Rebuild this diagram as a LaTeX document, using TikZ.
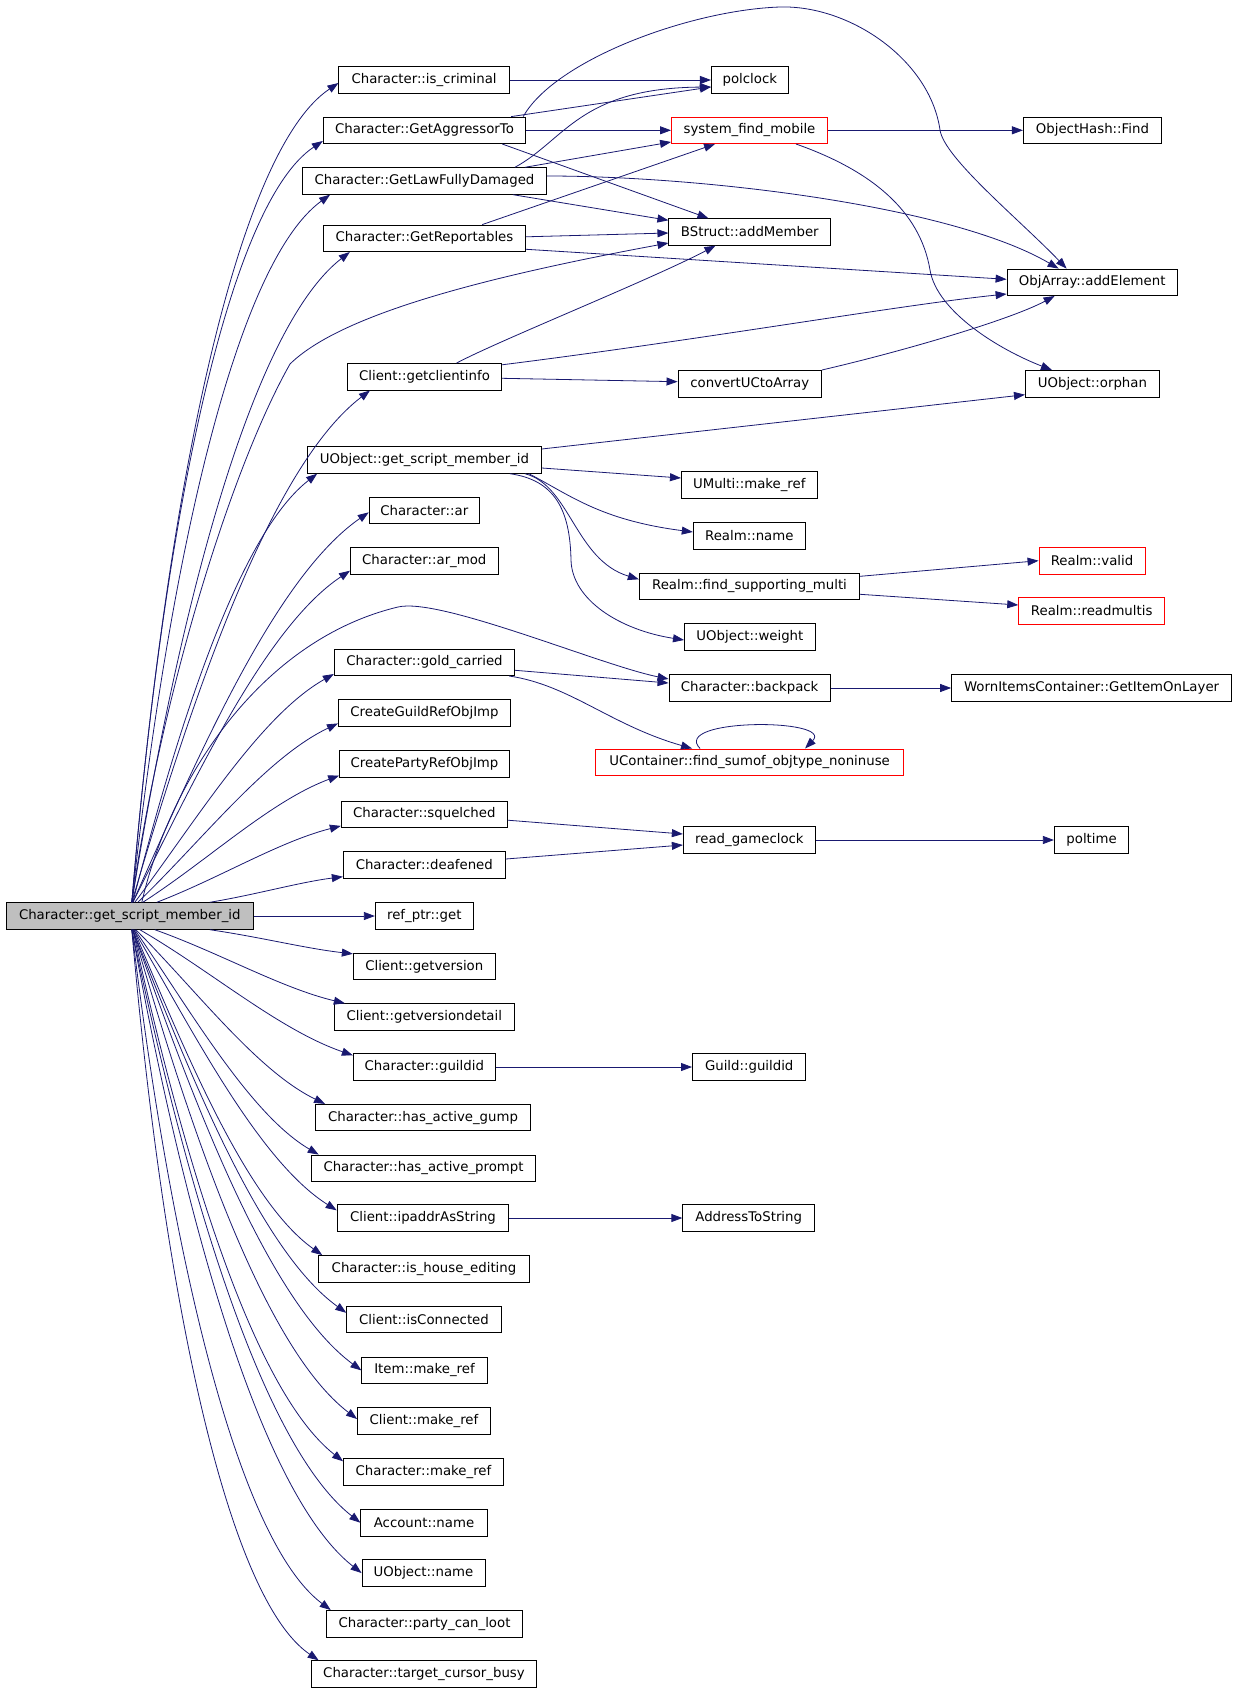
\documentclass[tikz,border=0pt]{standalone}
\usepackage{fontspec}
\setmainfont{DejaVu Sans}
\usetikzlibrary{arrows.meta,calc}
\definecolor{edgecol}{HTML}{191970}
\definecolor{nodegray}{HTML}{BFBFBF}
\definecolor{redline}{HTML}{FF0000}
\tikzset{
  fbox/.style={draw=black, line width=0.9pt, minimum height=26.5pt, inner sep=0pt, anchor=center,
     font=\fontsize{13.3}{16}\selectfont, text=black},
  redbox/.style={fbox, draw=redline},
  mainbox/.style={fbox, fill=nodegray},
  calln/.style={draw=edgecol, line width=0.8pt, -{Triangle[length=11pt,width=8pt]}},
}
\newcommand\callfan[2]{\draw[calln] let \p1=#1, \p2=#2, \n1={\x2-\x1}, \n2={\y2-\y1},
   \n3={min(5,max(0.1,abs(\n2)/\n1))-0.66}, \n4={0.33-0.05*\n3}, \n5={0.33+0.05*\n3},
   \n6={0.35+0.045*\n3}, \n7={max(0.05,0.2-0.035*\n3)}
   in (\p1) .. controls ({\x1+\n4*\n1},{\y1+\n5*\n2}) and ({\x2-\n6*\n1},{\y2-\n7*\n2}) .. (\p2);}
\begin{document}
\begin{tikzpicture}[x=1pt,y=-1pt]
\useasboundingbox (0,0) rectangle (1237,1694);
% nodes
\node[mainbox, minimum width=247pt] (main) at (129.8,916) {Character::get\_script\_member\_id};
\node[fbox, minimum width=170.4pt] (crim) at (424.1,80) {Character::is\_criminal};
\node[fbox, minimum width=76.8pt] (polc) at (749.8,80) {polclock};
\node[fbox, minimum width=202.5pt] (agg) at (424.5,130.3) {Character::GetAggressorTo};
\node[redbox, minimum width=156pt] (sfm) at (749.5,130.3) {system\_find\_mobile};
\node[fbox, minimum width=138pt] (ohf) at (1092.4,130.3) {ObjectHash::Find};
\node[fbox, minimum width=244pt] (law) at (424.5,181) {Character::GetLawFullyDamaged};
\node[fbox, minimum width=161.8pt] (bsm) at (749.8,232) {BStruct::addMember};
\node[fbox, minimum width=202.5pt] (rep) at (424.5,238.3) {Character::GetReportables};
\node[fbox, minimum width=170.3pt] (oae) at (1092.2,282.3) {ObjArray::addElement};
\node[fbox, minimum width=154.2pt] (gci) at (424.5,376.8) {Client::getclientinfo};
\node[fbox, minimum width=143.4pt] (cuc) at (749.7,383.7) {convertUCtoArray};
\node[fbox, minimum width=134pt] (orph) at (1092.4,383.7) {UObject::orphan};
\node[fbox, minimum width=233.8pt] (ugs) at (424.5,460) {UObject::get\_script\_member\_id};
\node[fbox, minimum width=135.8pt] (umr) at (749.3,485) {UMulti::make\_ref};
\node[fbox, minimum width=110.2pt] (car) at (424.3,510.3) {Character::ar};
\node[fbox, minimum width=112.1pt] (rnm) at (749.3,536) {Realm::name};
\node[fbox, minimum width=147.7pt] (carm) at (424.3,561) {Character::ar\_mod};
\node[redbox, minimum width=106pt] (rvl) at (1092,560.7) {Realm::valid};
\node[fbox, minimum width=220.4pt] (fsm) at (749.5,586.3) {Realm::find\_supporting\_multi};
\node[redbox, minimum width=146pt] (rrm) at (1091.7,611) {Realm::readmultis};
\node[fbox, minimum width=130.9pt] (wgt) at (749.9,637) {UObject::weight};
\node[fbox, minimum width=180.4pt] (gold) at (424.5,662.3) {Character::gold\_carried};
\node[fbox, minimum width=161.2pt] (bp) at (749.6,688) {Character::backpack};
\node[fbox, minimum width=280pt] (wic) at (1091.6,688) {WornItemsContainer::GetItemOnLayer};
\node[fbox, minimum width=172.2pt] (cgr) at (424.5,712.7) {CreateGuildRefObjImp};
\node[redbox, minimum width=308.2pt] (uc) at (749.6,762.2) {UContainer::find\_sumof\_objtype\_noninuse};
\node[fbox, minimum width=169.8pt] (cpr) at (424.5,763.8) {CreatePartyRefObjImp};
\node[fbox, minimum width=166pt] (sq) at (424.3,814.2) {Character::squelched};
\node[fbox, minimum width=132.2pt] (rgc) at (749.4,840) {read\_gameclock};
\node[fbox, minimum width=74.5pt] (ptime) at (1091.6,840) {poltime};
\node[fbox, minimum width=162pt] (deaf) at (424.3,865) {Character::deafened};
\node[fbox, minimum width=98pt] (ref) at (424.3,916) {ref\_ptr::get};
\node[fbox, minimum width=142pt] (gv) at (424.3,966.5) {Client::getversion};
\node[fbox, minimum width=180pt] (gvd) at (424.3,1017) {Client::getversiondetail};
\node[fbox, minimum width=142pt] (gid) at (424.3,1067) {Character::guildid};
\node[fbox, minimum width=113.4pt] (ggid) at (749.2,1067) {Guild::guildid};
\node[fbox, minimum width=215pt] (hag) at (423,1117.6) {Character::has\_active\_gump};
\node[fbox, minimum width=224.7pt] (hap) at (423.5,1168.3) {Character::has\_active\_prompt};
\node[fbox, minimum width=171.8pt] (ip) at (423,1218) {Client::ipaddrAsString};
\node[fbox, minimum width=131.8pt] (ats) at (748.7,1218) {AddressToString};
\node[fbox, minimum width=210.6pt] (ihe) at (424,1268.8) {Character::is\_house\_editing};
\node[fbox, minimum width=154.5pt] (icn) at (424,1319.5) {Client::isConnected};
\node[fbox, minimum width=125.3pt] (imr) at (424.5,1370.4) {Item::make\_ref};
\node[fbox, minimum width=133pt] (cmr) at (424,1421) {Client::make\_ref};
\node[fbox, minimum width=160pt] (chmr) at (423.5,1472) {Character::make\_ref};
\node[fbox, minimum width=126.4pt] (acn) at (424,1522.7) {Account::name};
\node[fbox, minimum width=123pt] (uon) at (423.5,1573) {UObject::name};
\node[fbox, minimum width=196.6pt] (pcl) at (424.5,1623.7) {Character::party\_can\_loot};
\node[fbox, minimum width=225.8pt] (tcb) at (424,1674) {Character::target\_cursor\_busy};
% edges from main, upward
\callfan{([xshift=2pt]main.north)}{([yshift=-3pt]crim.west)}
\callfan{([xshift=2pt]main.north)}{([yshift=3pt]agg.south west)}
\callfan{([xshift=2pt]main.north)}{([xshift=28pt]law.south west)}
\callfan{([xshift=2pt]main.north)}{([xshift=27pt]rep.south west)}
\draw[calln] ([xshift=2pt]main.north) .. controls (160,700) and (230,470) .. (290,364) .. controls (340,315) and (480,278) .. ([yshift=-11pt]bsm.west);
\callfan{([xshift=2pt]main.north)}{([xshift=23pt]gci.south west)}
\callfan{([xshift=3pt]main.north)}{([xshift=10pt]ugs.south west)}
\callfan{([xshift=3pt]main.north)}{([yshift=-2pt]car.west)}
\callfan{([xshift=3pt]main.north)}{([yshift=4pt]carm.south west)}
\draw[calln] ([xshift=12pt]main.north) .. controls (170,780) and (260,640) .. (398,607) .. controls (440,597) and (600,665) .. ([yshift=9pt]bp.west);
\callfan{([xshift=5pt]main.north)}{([yshift=2pt]gold.south west)}
\callfan{([xshift=8pt]main.north)}{([yshift=3pt]cgr.south west)}
\callfan{([xshift=13pt]main.north)}{([yshift=2pt]cpr.south west)}
\callfan{([xshift=27pt]main.north)}{([yshift=2pt]sq.south west)}
\callfan{([xshift=80pt]main.north)}{([yshift=2pt]deaf.south west)}
\draw[calln] (main.east) -- (ref.west);
% edges from main, downward
\callfan{([xshift=80pt]main.south)}{([yshift=-1pt]gv.north west)}
\callfan{([xshift=25pt]main.south)}{([xshift=11pt]gvd.north west)}
\callfan{([xshift=10pt]main.south)}{([yshift=-2pt]gid.north west)}
\callfan{([xshift=6pt]main.south)}{([xshift=10pt]hag.north west)}
\callfan{([xshift=5pt]main.south)}{([xshift=8pt]hap.north west)}
\callfan{([xshift=4pt]main.south)}{([yshift=-6pt]ip.north west)}
\callfan{([xshift=4pt]main.south)}{([xshift=4pt]ihe.north west)}
\callfan{([xshift=3pt]main.south)}{([yshift=-7pt]icn.north west)}
\callfan{([xshift=3pt]main.south)}{(imr.west)}
\callfan{([xshift=3pt]main.south)}{([yshift=2pt]cmr.west)}
\callfan{([xshift=3pt]main.south)}{([yshift=-3pt]chmr.north west)}
\callfan{([xshift=2pt]main.south)}{(acn.west)}
\callfan{([xshift=2pt]main.south)}{(uon.west)}
\callfan{([xshift=2pt]main.south)}{([xshift=5pt]pcl.north west)}
\callfan{([xshift=2pt]main.south)}{([xshift=8pt]tcb.north west)}
% other edges
\draw[calln] (crim.east) -- (polc.west);
\draw[calln] ([xshift=-15pt]agg.north east) -- ([yshift=-7pt]polc.west);
\draw[calln] ([xshift=-32pt]law.north east) .. controls (565,140) and (580,88) .. ([yshift=-7pt]polc.west);
\draw[calln] (agg.east) -- (sfm.west);
\draw[calln] ([xshift=-24pt]agg.south east) -- ([xshift=40pt]bsm.north west);
\draw[calln] ([xshift=-3pt]agg.north east) .. controls (555,60) and (690,10) .. (780,7) .. controls (850,5) and (930,60) .. (940,130) .. controls (944,158) and (1020,220) .. ([xshift=60pt]oae.north west);
\draw[calln] ([xshift=-22pt]law.north east) -- ([yshift=2pt]sfm.south west);
\draw[calln] ([yshift=5pt]law.east) .. controls (700,176) and (950,205) .. ([xshift=52pt]oae.north west);
\draw[calln] ([xshift=-34pt]law.south east) -- ([yshift=-2pt]bsm.north west);
\draw[calln] ([xshift=-44pt]rep.north east) -- ([xshift=44pt]sfm.south west);
\draw[calln] ([yshift=1.5pt]rep.east) -- ([yshift=-1pt]bsm.west);
\draw[calln] ([yshift=-11pt]rep.east) -- ([yshift=3pt]oae.west);
\draw[calln] ([xshift=32pt]gci.north) .. controls (500,340) and (650,280) .. ([xshift=47pt]bsm.south west);
\draw[calln] ([yshift=12pt]gci.east) .. controls (700,340) and (900,305) .. ([yshift=2pt]oae.south west);
\draw[calln] ([yshift=-1.5pt]gci.east) -- ([yshift=2pt]cuc.west);
\draw[calln] (cuc.north east) .. controls (900,352) and (1010,320) .. ([xshift=48pt]oae.south west);
\draw[calln] (sfm.east) -- (ohf.west);
\draw[calln] ([xshift=-32pt]sfm.south east) .. controls (870,170) and (920,210) .. (930,270) .. controls (937,312) and (1000,350) .. ([xshift=27pt]orph.north west);
\draw[calln] ([yshift=11pt]ugs.east) -- ([yshift=-11pt]orph.west);
\draw[calln] ([yshift=-8pt]ugs.east) -- ([yshift=7pt]umr.west);
\draw[calln] ([xshift=-13pt]ugs.south east) .. controls (570,495) and (600,520) .. ([yshift=4pt]rnm.west);
\draw[calln] ([xshift=-17pt]ugs.south east) .. controls (570,485) and (575,560) .. ([yshift=7pt]fsm.west);
\draw[calln] ([xshift=-32pt]ugs.south east) .. controls (555,480) and (570,510) .. (571,560) .. controls (572,600) and (620,630) .. ([yshift=-3pt]wgt.west);
\draw[calln] ([yshift=10pt]fsm.east) -- (rvl.west);
\draw[calln] ([yshift=-8pt]fsm.east) -- ([yshift=6pt]rrm.west);
\draw[calln] ([yshift=-8pt]gold.east) -- ([yshift=5pt]bp.west);
\draw[calln] ([xshift=-6pt]gold.south east) .. controls (570,685) and (610,725) .. ([xshift=97pt]uc.north west);
\draw[calln] ([xshift=105pt]uc.north west) .. controls (670,718) and (835,718) .. ([xshift=210pt]uc.north west);
\draw[calln] (bp.east) -- (wic.west);
\draw[calln] ([yshift=-6pt]sq.east) -- ([yshift=6pt]rgc.west);
\draw[calln] ([yshift=6pt]deaf.east) -- ([yshift=-5pt]rgc.west);
\draw[calln] (rgc.east) -- (ptime.west);
\draw[calln] (gid.east) -- (ggid.west);
\draw[calln] (ip.east) -- (ats.west);
\end{tikzpicture}
\end{document}
